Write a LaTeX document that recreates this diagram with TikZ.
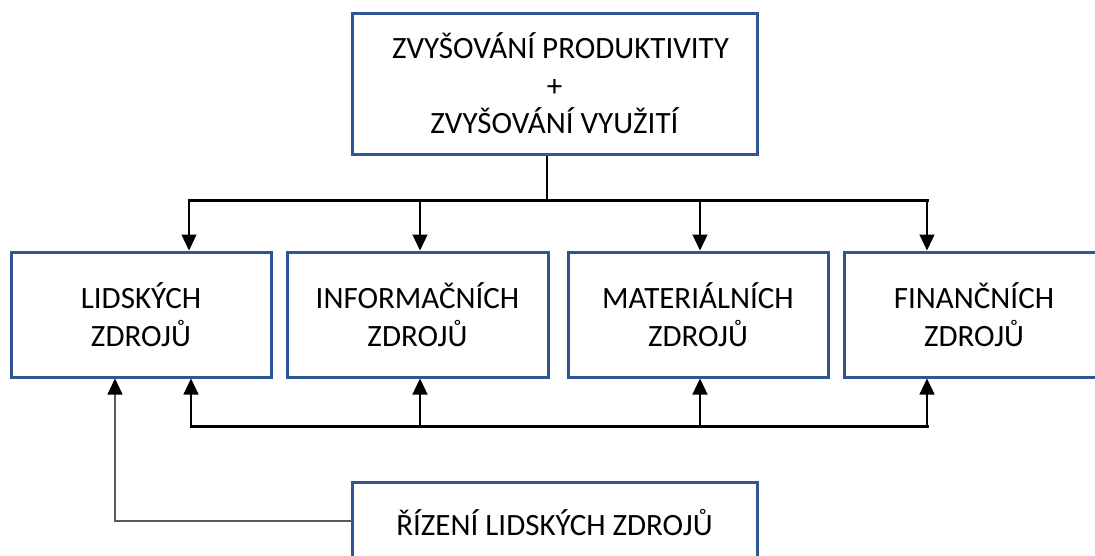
\documentclass[tikz,border=0pt]{standalone}
\usepackage{fontspec}
\setmainfont{Carlito}
\usetikzlibrary{arrows.meta}
\definecolor{boxblue}{RGB}{47,85,151}
\definecolor{feedgray}{RGB}{90,90,90}
\begin{document}
\begin{tikzpicture}[x=1pt,y=-1pt,
  box/.style={draw=boxblue, line width=3pt, fill=white, minimum width=#1,
    align=center, inner sep=0pt, font=\fontsize{31}{37.5}\selectfont},
  rowbox/.style={box=260pt, minimum height=125pt},
  bus/.style={line width=3pt, line cap=rect},
  link/.style={line width=1.2pt},
  arr/.style={link, -{Triangle[length=16pt,width=15pt,color=black]}}]
\clip (0,0) rectangle (1095,555);

% goal box
\node[box=405pt, minimum height=141pt] (goal) at (554.5,83.5)
  {\hspace*{12pt}ZVYŠOVÁNÍ PRODUKTIVITY\\+\\ZVYŠOVÁNÍ VYUŽITÍ};

% resource boxes
\node[rowbox] (lid) at (141,314.5) {LIDSKÝCH\\ZDROJŮ};
\node[rowbox, minimum width=261pt] (inf) at (417.5,314.5) {INFORMAČNÍCH\\ZDROJŮ};
\node[rowbox] (mat) at (698,314.5) {MATERIÁLNÍCH\\ZDROJŮ};
\node[rowbox] (fin) at (974,314.5) {FINANČNÍCH\\ZDROJŮ};

% management box
\node[box=405pt, minimum height=80pt] (riz) at (554.5,522) {ŘÍZENÍ LIDSKÝCH ZDROJŮ};

% distribution bus
\coordinate (stem) at (547,200);
\coordinate (d1) at (189,200);
\coordinate (d2) at (420,200);
\coordinate (d3) at (700,200);
\coordinate (d4) at (927,200);
\draw[link] (stem |- goal.south) -- (stem);
\draw[bus] (d1) -- (d4);
\foreach \d/\b in {d1/lid, d2/inf, d3/mat, d4/fin}
  \draw[arr] (\d) -- (\d |- \b.north);

% feedback bus
\coordinate (u1) at (191,426);
\coordinate (u2) at (420,426);
\coordinate (u3) at (700,426);
\coordinate (u4) at (927,426);
\draw[bus] (u1) -- (u4);
\foreach \u/\b in {u1/lid, u2/inf, u3/mat, u4/fin}
  \draw[arr] (\u) -- (\u |- \b.south);

% management link
\coordinate (m) at (115,521);
\draw[arr, draw=feedgray] (riz.west |- m) -- (m) -- (m |- lid.south);
\end{tikzpicture}
\end{document}
